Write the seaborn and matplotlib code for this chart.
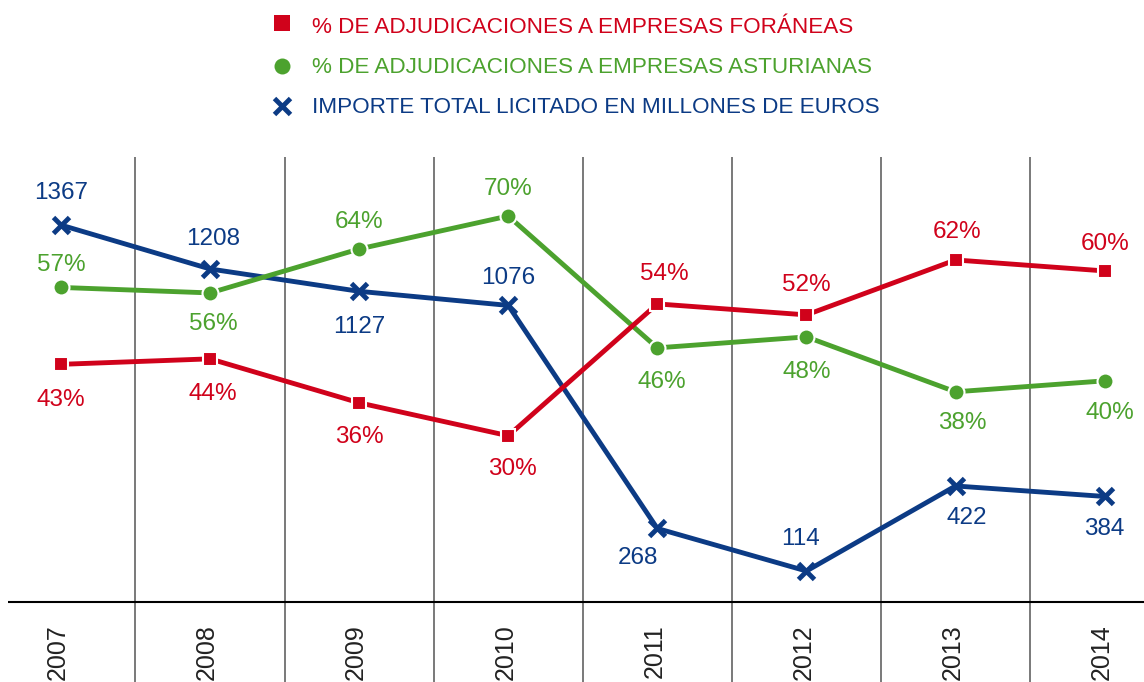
import matplotlib
matplotlib.use('Agg')
import matplotlib.pyplot as plt
import seaborn as sns
from matplotlib.lines import Line2D

# data
years = [2007, 2008, 2009, 2010, 2011, 2012, 2013, 2014]
foraneas = [43, 44, 36, 30, 54, 52, 62, 60]
asturianas = [57, 56, 64, 70, 46, 48, 38, 40]
importe = [1367, 1208, 1127, 1076, 268, 114, 422, 384]
legend_labels = ['% DE ADJUDICACIONES A EMPRESAS FORÁNEAS',
                 '% DE ADJUDICACIONES A EMPRESAS ASTURIANAS',
                 'IMPORTE TOTAL LICITADO EN MILLONES DE EUROS']

RED = '#d0021b'
GREEN = '#4ca22e'
BLUE = '#0c3b85'

W, H = 1144, 682
sns.set_style('white')
plt.rcParams['font.family'] = ['Liberation Sans', 'DejaVu Sans']

fig = plt.figure(figsize=(W / 100, H / 100), dpi=100)
ax = fig.add_axes([8 / W, 0, 1136 / W, 525 / H])
ax2 = ax.twinx()
ax.set_xlim(2006.645, 2014.264)
ax.set_ylim(-288, 1613.5)
ax2.set_ylim(-14.82, 80.74)
ax.set_axis_off()
ax2.set_axis_off()

# grid: vertical separators between years and baseline
for y in years[:-1]:
    ax.axvline(y + 0.5, color='#555555', lw=1.1, zorder=0)
ax.axhline(0, color='black', lw=1.5, zorder=0)

# year labels below the baseline
for y in years:
    ax.text(y - 0.02, 58 / 525, str(y), transform=ax.get_xaxis_transform(),
            rotation=90, ha='center', va='top', fontsize=18, color='#222222')

line_kw = dict(lw=3.5, markeredgecolor='white', markeredgewidth=1.5)
sns.lineplot(x=years, y=importe, ax=ax, color=BLUE, lw=3.5,
             legend=False, zorder=2)
ax.plot(years, importe, ls='none', marker='x', markersize=11, mew=3.5,
        color=BLUE, zorder=3)
sns.lineplot(x=years, y=asturianas, ax=ax2, color=GREEN, marker='o',
             markersize=11.5, legend=False, zorder=2, **line_kw)
sns.lineplot(x=years, y=foraneas, ax=ax2, color=RED, marker='s',
             markersize=10.5, legend=False, zorder=3, **line_kw)

# label offsets in pixels (dx, dy of the label centre)
off_red = [(0, -33), (3, -33), (0, -32), (4, -31), (7, 32), (0, 32), (2, 30), (0, 29)]
off_green = [(0, 25), (3, -29), (0, 29), (0, 30), (4, -32), (0, -33), (7, -29), (5, -30)]
off_blue = [(0, 35), (3, 32), (0, -33), (0, 30), (-19, -27), (-6, 35), (11, -30), (0, -30)]

def put_labels(axis, vals, offs, color, fmt):
    for x, v, (dx, dy) in zip(years, vals, offs):
        axis.annotate(fmt.format(v), (x, v), xytext=(dx, dy - 8.5),
                      textcoords='offset pixels', ha='center', va='baseline',
                      fontsize=17.5, color=color, zorder=5)

put_labels(ax2, foraneas, off_red, RED, '{}%')
put_labels(ax2, asturianas, off_green, GREEN, '{}%')
put_labels(ax, importe, off_blue, BLUE, '{}')

# legend drawn by hand at the top
leg_marks = [dict(marker='s', markersize=11.5, color=RED, mew=0),
             dict(marker='o', markersize=11.5, color=GREEN, mew=0),
             dict(marker='x', markersize=11, color=BLUE, mew=3.5)]
leg_y = [23, 66, 106]
leg_base = [33, 73, 113]
for lab, mk, ym, yb, c in zip(legend_labels, leg_marks, leg_y, leg_base, [RED, GREEN, BLUE]):
    fig.add_artist(Line2D([282 / W], [1 - ym / H], transform=fig.transFigure,
                          ls='none', **mk))
    fig.text(312 / W, 1 - yb / H, lab, fontsize=16.2, color=c, va='baseline', ha='left')

fig.savefig('out.png', dpi=100)
